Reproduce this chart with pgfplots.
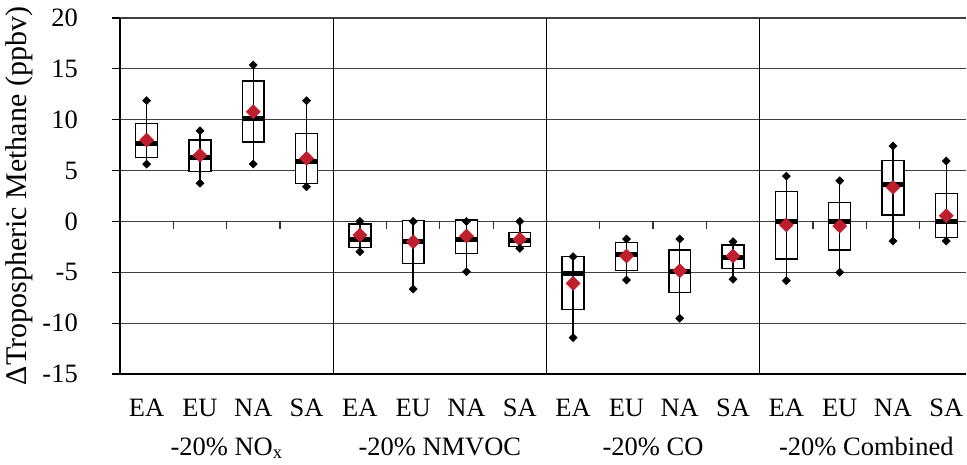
\documentclass[border=0pt]{standalone}
\usepackage{fontspec}
\setmainfont{Liberation Serif}
\usepackage{pgfplots}
\pgfplotsset{compat=1.18}
\usepgfplotslibrary{statistics}
\usepackage{pgfplotstable}
\definecolor{meanred}{RGB}{190,30,45}
\pgfplotstableread{
x lw lq med uq uw mean
0 5.64 6.26 7.68 9.65 11.87 8.0
1 3.75 4.89 6.30 8.0 8.92 6.5
2 5.64 7.81 10.13 13.8 15.38 10.79
3 3.41 3.75 5.87 8.63 11.87 6.2
4 -2.98 -2.58 -1.76 -0.26 0 -1.34
5 -6.65 -4.12 -1.93 0.1 0 -2.0
6 -4.94 -3.14 -1.76 0.14 0 -1.44
7 -2.65 -2.49 -1.83 -1.11 0 -1.76
8 -11.43 -8.65 -5.1 -3.47 -3.47 -6.09
9 -5.76 -4.85 -3.30 -2.06 -1.73 -3.4
10 -9.53 -7.01 -4.88 -2.81 -1.73 -4.85
11 -5.69 -4.61 -3.53 -2.32 -1.99 -3.4
12 -5.83 -3.7 0 2.92 4.46 -0.35
13 -5.0 -2.81 0 1.88 4.0 -0.45
14 -1.93 0.63 3.65 6.0 7.41 3.35
15 -1.93 -1.56 0 2.76 5.94 0.56
}\data
\begin{document}
\fontsize{26.5}{30}\selectfont
\begin{tikzpicture}
\begin{axis}[
  scale only axis, width=846pt, height=356pt,
  xmin=-0.5, xmax=15.37, ymin=-15, ymax=20,
  axis x line=bottom, axis y line=left,
  axis line style={-, black, line width=1.2pt},
  xtick={0,...,15},
  xticklabels={EA,EU,NA,SA,EA,EU,NA,SA,EA,EU,NA,SA,EA,EU,NA,SA},
  x tick style={draw=none},
  ytick={-15,-10,...,20},
  yticklabels={-15,-10,-5,0,5,10,15,20},
  y tick style={black, line width=1.2pt},
  tick align=outside, major tick length=8pt,
  ymajorgrids, y grid style={black!75, line width=1.1pt},
  tick label style={font=\fontsize{26.5}{30}\selectfont},
  xticklabel style={anchor=base, yshift=-34pt},
  yticklabel style={anchor=east, inner sep=0pt, xshift=-34pt},
  ylabel={ΔTropospheric Methane (ppbv)},
  every axis y label/.style={at={([xshift=-101pt]rel axis cs:0,0.5)}, rotate=90, anchor=center, font=\fontsize{30}{34}\selectfont},
  boxplot/draw direction=y,
  boxplot/box extend=0.41,
  boxplot/whisker extend=0,
  boxplot/every median/.style={line width=5pt},
  clip=false,
]
\addplot[black, line width=1.4pt, fill=white, boxplot prepared={draw position=0, lower whisker=5.64, lower quartile=6.26, median=7.68, upper quartile=9.65, upper whisker=11.87}] coordinates {};
\addplot[black, line width=1.4pt, fill=white, boxplot prepared={draw position=1, lower whisker=3.75, lower quartile=4.89, median=6.30, upper quartile=8.0, upper whisker=8.92}] coordinates {};
\addplot[black, line width=1.4pt, fill=white, boxplot prepared={draw position=2, lower whisker=5.64, lower quartile=7.81, median=10.13, upper quartile=13.8, upper whisker=15.38}] coordinates {};
\addplot[black, line width=1.4pt, fill=white, boxplot prepared={draw position=3, lower whisker=3.41, lower quartile=3.75, median=5.87, upper quartile=8.63, upper whisker=11.87}] coordinates {};
\addplot[black, line width=1.4pt, fill=white, boxplot prepared={draw position=4, lower whisker=-2.98, lower quartile=-2.58, median=-1.76, upper quartile=-0.26, upper whisker=0}] coordinates {};
\addplot[black, line width=1.4pt, fill=white, boxplot prepared={draw position=5, lower whisker=-6.65, lower quartile=-4.12, median=-1.93, upper quartile=0.1, upper whisker=0.1}] coordinates {};
\addplot[black, line width=1.4pt, fill=white, boxplot prepared={draw position=6, lower whisker=-4.94, lower quartile=-3.14, median=-1.76, upper quartile=0.14, upper whisker=0.14}] coordinates {};
\addplot[black, line width=1.4pt, fill=white, boxplot prepared={draw position=7, lower whisker=-2.65, lower quartile=-2.49, median=-1.83, upper quartile=-1.11, upper whisker=0}] coordinates {};
\addplot[black, line width=1.4pt, fill=white, boxplot prepared={draw position=8, lower whisker=-11.43, lower quartile=-8.65, median=-5.1, upper quartile=-3.47, upper whisker=-3.47}] coordinates {};
\addplot[black, line width=1.4pt, fill=white, boxplot prepared={draw position=9, lower whisker=-5.76, lower quartile=-4.85, median=-3.30, upper quartile=-2.06, upper whisker=-1.73}] coordinates {};
\addplot[black, line width=1.4pt, fill=white, boxplot prepared={draw position=10, lower whisker=-9.53, lower quartile=-7.01, median=-4.88, upper quartile=-2.81, upper whisker=-1.73}] coordinates {};
\addplot[black, line width=1.4pt, fill=white, boxplot prepared={draw position=11, lower whisker=-5.69, lower quartile=-4.61, median=-3.53, upper quartile=-2.32, upper whisker=-1.99}] coordinates {};
\addplot[black, line width=1.4pt, fill=white, boxplot prepared={draw position=12, lower whisker=-5.83, lower quartile=-3.7, median=0, upper quartile=2.92, upper whisker=4.46}] coordinates {};
\addplot[black, line width=1.4pt, fill=white, boxplot prepared={draw position=13, lower whisker=-5.0, lower quartile=-2.81, median=0, upper quartile=1.88, upper whisker=4.0}] coordinates {};
\addplot[black, line width=1.4pt, fill=white, boxplot prepared={draw position=14, lower whisker=-1.93, lower quartile=0.63, median=3.65, upper quartile=6.0, upper whisker=7.41}] coordinates {};
\addplot[black, line width=1.4pt, fill=white, boxplot prepared={draw position=15, lower whisker=-1.93, lower quartile=-1.56, median=0, upper quartile=2.76, upper whisker=5.94}] coordinates {};
% means
\addplot[only marks, mark=square*, mark size=5pt, color=meanred, mark options={rotate=45, fill=meanred, draw=none}] table[x=x, y=mean] {\data};
% whisker lines through the boxes
\addplot[only marks, mark=none, black, error bars/.cd, y dir=plus, y explicit, error mark=none, error bar style={line width=1.4pt, black}] table[x=x, y=lw, y error expr=\thisrow{uw}-\thisrow{lw}] {\data};
% whisker end markers
\addplot[only marks, mark=square*, mark size=2.9pt, black, mark options={rotate=45}] table[x=x, y=lw] {\data};
\addplot[only marks, mark=square*, mark size=2.9pt, black, mark options={rotate=45}] table[x=x, y=uw] {\data};
% group separators and zero-line ticks
\draw[black, line width=1.2pt] (axis cs:3.5,-15) -- (axis cs:3.5,20);
\draw[black, line width=1.2pt] (axis cs:7.5,-15) -- (axis cs:7.5,20);
\draw[black, line width=1.2pt] (axis cs:11.5,-15) -- (axis cs:11.5,20);
\pgfplotsinvokeforeach{0.5,1.5,2.5,4.5,5.5,6.5,8.5,9.5,10.5,12.5,13.5,14.5}{
  \draw[black!80, line width=1.2pt] (axis cs:#1,0) -- ([yshift=-8pt]axis cs:#1,0);
}
\node[anchor=base] at ([yshift=-81pt]axis cs:1.5,-15) {-20\% NO\textsubscript{x}};
\node[anchor=base] at ([yshift=-81pt]axis cs:5.5,-15) {-20\% NMVOC};
\node[anchor=base] at ([yshift=-81pt]axis cs:9.5,-15) {-20\% CO};
\node[anchor=base] at ([yshift=-81pt]axis cs:13.5,-15) {-20\% Combined};
\end{axis}
\pgfresetboundingbox
\path (-120pt,-90pt) rectangle (847pt,374pt);
\end{tikzpicture}
\end{document}
